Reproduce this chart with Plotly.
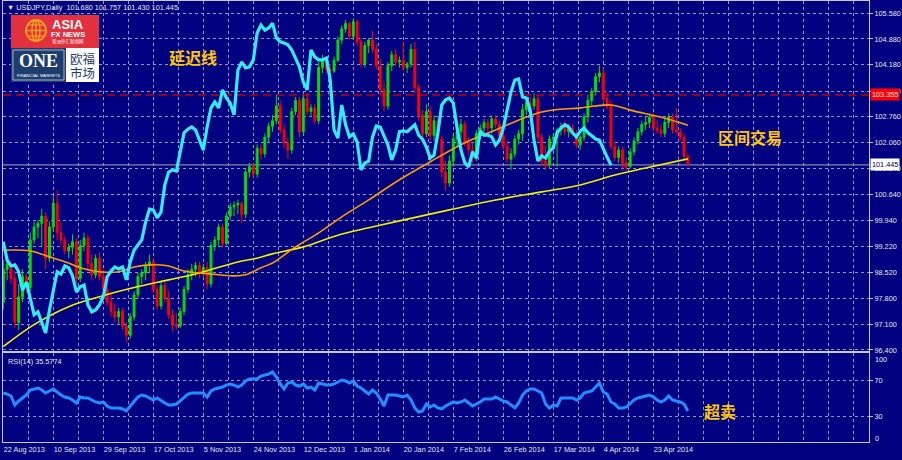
import plotly.graph_objects as go
from plotly.subplots import make_subplots

# date labels on the time axis, each sitting on a bar index
date_labels = ["22 Aug 2013", "10 Sep 2013", "29 Sep 2013", "17 Oct 2013", "5 Nov 2013",
               "24 Nov 2013", "12 Dec 2013", "1 Jan 2014", "20 Jan 2014", "7 Feb 2014",
               "26 Feb 2014", "17 Mar 2014", "4 Apr 2014", "23 Apr 2014"]
date_bars = [0, 13, 26, 39, 52, 65, 78, 91, 104, 117, 130, 143, 156, 169]

# price axis labels (as printed by the terminal)
price_ticks = [105.580, 104.880, 104.180, 103.460, 102.760, 102.060, 101.340,
               100.640, 99.940, 99.220, 98.520, 97.800, 97.100, 96.400]

# USDJPY daily candles
open_ = [97.70, 98.60, 98.75, 98.35, 97.15, 97.85, 98.40, 98.10, 99.40, 99.75,
         99.85, 100.05, 98.90, 99.75, 100.40, 99.60, 99.40, 99.10, 99.20, 99.35,
         98.35, 99.25, 99.45, 98.75, 98.45, 98.90, 98.40, 98.05, 97.70, 97.45,
         97.30, 97.45, 97.05, 96.80, 97.30, 97.90, 98.40, 98.50, 98.70, 98.80,
         98.05, 97.60, 98.15, 97.80, 97.35, 97.10, 97.05, 97.45, 98.05, 98.45,
         98.60, 98.70, 98.50, 98.65, 98.20, 99.25, 99.40, 99.75, 99.30, 100.05,
         100.30, 100.35, 100.40, 100.10, 101.25, 101.40, 101.20, 101.90, 101.75, 102.20,
         102.50, 102.65, 103.05, 102.40, 102.05, 101.85, 102.90, 103.20, 102.35, 103.25,
         102.90, 103.00, 102.65, 104.10, 104.30, 104.05, 104.00, 104.30, 104.85, 105.15,
         105.30, 104.95, 105.35, 104.80, 104.20, 104.70, 104.85, 104.60, 104.15, 103.50,
         103.05, 104.15, 104.45, 104.25, 104.30, 104.10, 104.20, 104.60, 103.55, 102.80,
         102.30, 102.90, 102.25, 102.65, 102.15, 101.25, 100.95, 101.55, 102.15, 102.35,
         102.55, 102.05, 101.85, 101.65, 102.30, 102.45, 102.60, 102.45, 102.70, 102.55,
         102.25, 101.95, 101.60, 101.75, 102.15, 102.30, 102.95, 103.15, 103.05, 103.25,
         102.20, 101.55, 101.45, 102.15, 102.20, 102.40, 102.50, 102.35, 102.45, 102.30,
         102.00, 102.20, 102.75, 103.20, 103.45, 103.85, 103.95, 103.25, 103.05, 101.95,
         101.65, 101.85, 101.50, 101.40, 101.80, 102.10, 102.35, 102.55, 102.60, 102.75,
         102.45, 102.40, 102.30, 102.60, 102.75, 102.40, 102.35, 102.20, 101.680]
high = [98.85, 98.90, 98.85, 98.55, 98.20, 98.60, 98.50, 99.60, 99.90, 99.95,
        100.25, 100.15, 99.90, 100.60, 100.75, 99.90, 99.50, 99.30, 99.55, 99.45,
        99.40, 99.60, 99.55, 99.00, 99.00, 99.05, 98.60, 98.20, 97.95, 97.65,
        97.55, 97.55, 97.15, 97.40, 98.00, 98.50, 98.60, 98.80, 99.00, 98.90,
        98.15, 98.25, 98.30, 98.00, 97.50, 97.40, 97.55, 98.15, 98.60, 98.75,
        98.80, 98.80, 98.75, 98.80, 99.35, 99.50, 99.85, 99.85, 100.15, 100.40,
        100.45, 100.50, 100.45, 101.35, 101.50, 101.50, 102.00, 102.00, 102.30, 102.60,
        102.80, 103.35, 103.20, 102.55, 102.20, 103.00, 103.30, 103.30, 103.35, 103.40,
        103.10, 103.10, 104.25, 104.45, 104.40, 104.20, 104.40, 104.95, 105.25, 105.40,
        105.35, 105.44, 105.40, 104.90, 104.80, 104.90, 105.10, 104.75, 104.35, 103.70,
        104.25, 104.55, 104.60, 104.40, 104.80, 104.25, 104.75, 104.80, 103.65, 102.95,
        103.10, 103.05, 102.80, 102.75, 102.25, 101.55, 101.70, 102.30, 102.50, 102.70,
        102.65, 102.20, 102.05, 102.40, 102.55, 102.70, 102.70, 102.80, 102.80, 102.65,
        102.35, 102.10, 101.90, 102.25, 102.40, 103.10, 103.25, 103.30, 103.40, 103.35,
        102.30, 101.95, 102.25, 102.30, 102.45, 102.60, 102.65, 102.55, 102.55, 102.40,
        102.25, 102.85, 103.35, 103.55, 103.95, 104.15, 104.10, 103.40, 103.20, 102.10,
        101.95, 101.95, 101.65, 101.90, 102.20, 102.45, 102.65, 102.75, 102.85, 102.85,
        102.65, 102.55, 102.70, 102.85, 102.85, 103.00, 102.45, 102.30, 101.757]
low = [97.50, 98.30, 98.20, 97.00, 96.95, 97.70, 97.95, 98.00, 99.30, 99.45,
       99.20, 98.60, 98.80, 99.65, 99.40, 99.25, 99.00, 98.90, 99.00, 98.20,
       98.25, 99.10, 98.60, 98.30, 98.35, 98.30, 97.90, 97.60, 97.30, 97.15,
       97.10, 96.95, 96.60, 96.70, 97.20, 97.80, 98.20, 98.30, 98.50, 97.95,
       97.50, 97.50, 97.70, 97.25, 96.90, 96.95, 97.00, 97.35, 97.95, 98.30,
       98.40, 98.35, 98.40, 98.05, 98.10, 99.10, 99.20, 99.20, 99.25, 99.95,
       100.05, 100.10, 99.85, 100.00, 101.10, 101.10, 101.10, 101.60, 101.65, 102.05,
       102.35, 102.55, 102.30, 101.90, 101.60, 101.75, 102.80, 102.20, 102.25, 102.80,
       102.75, 102.55, 102.55, 103.95, 103.95, 103.85, 103.95, 104.25, 104.75, 105.05,
       104.85, 104.85, 104.70, 104.10, 104.10, 104.50, 104.50, 104.05, 103.35, 102.90,
       102.95, 104.00, 104.15, 104.10, 104.00, 103.95, 104.10, 103.40, 102.65, 102.15,
       102.20, 102.10, 102.10, 102.05, 101.10, 100.75, 100.85, 101.40, 101.95, 102.10,
       101.95, 101.70, 101.50, 101.55, 102.15, 102.30, 102.35, 102.30, 102.45, 102.10,
       101.85, 101.50, 101.30, 101.65, 102.00, 102.10, 102.80, 102.95, 102.95, 102.05,
       101.40, 101.30, 101.35, 101.95, 101.40, 102.25, 102.25, 102.20, 102.25, 101.90,
       101.85, 102.10, 102.60, 103.05, 103.35, 103.70, 103.15, 102.95, 101.85, 101.55,
       101.50, 101.30, 101.30, 101.35, 101.70, 102.00, 102.25, 102.40, 102.45, 102.35,
       102.30, 102.20, 102.20, 102.45, 102.30, 102.30, 102.10, 101.60, 101.430]
close = [98.60, 98.75, 98.35, 97.15, 97.85, 98.40, 98.10, 99.40, 99.75, 99.85,
         100.05, 98.90, 99.75, 100.40, 99.60, 99.40, 99.10, 99.20, 99.35, 98.35,
         99.25, 99.45, 98.75, 98.45, 98.90, 98.40, 98.05, 97.70, 97.45, 97.30,
         97.45, 97.05, 96.80, 97.30, 97.90, 98.40, 98.50, 98.70, 98.80, 98.05,
         97.60, 98.15, 97.80, 97.35, 97.10, 97.05, 97.45, 98.05, 98.45, 98.60,
         98.70, 98.50, 98.65, 98.20, 99.25, 99.40, 99.75, 99.30, 100.05, 100.30,
         100.35, 100.40, 100.10, 101.25, 101.40, 101.20, 101.90, 101.75, 102.20, 102.50,
         102.65, 103.05, 102.40, 102.05, 101.85, 102.90, 103.20, 102.35, 103.25, 102.90,
         103.00, 102.65, 104.10, 104.30, 104.05, 104.00, 104.30, 104.85, 105.15, 105.30,
         104.95, 105.35, 104.80, 104.20, 104.70, 104.85, 104.60, 104.15, 103.50, 103.05,
         104.15, 104.45, 104.25, 104.30, 104.10, 104.20, 104.60, 103.55, 102.80, 102.30,
         102.90, 102.25, 102.65, 102.15, 101.25, 100.95, 101.55, 102.15, 102.35, 102.55,
         102.05, 101.85, 101.65, 102.30, 102.45, 102.60, 102.45, 102.70, 102.55, 102.25,
         101.95, 101.60, 101.75, 102.15, 102.30, 102.95, 103.15, 103.05, 103.25, 102.20,
         101.55, 101.45, 102.15, 102.20, 102.40, 102.50, 102.35, 102.45, 102.30, 102.00,
         102.20, 102.75, 103.20, 103.45, 103.85, 103.95, 103.25, 103.05, 101.95, 101.65,
         101.85, 101.50, 101.40, 101.80, 102.10, 102.35, 102.55, 102.60, 102.75, 102.45,
         102.40, 102.30, 102.60, 102.75, 102.40, 102.35, 102.20, 101.68, 101.445]

# lagging line (cyan), one value per bar from the first bar
lag_line = [99.35, 98.85, 98.69, 98.72, 98.53, 98.03, 98.25, 97.77, 97.36, 97.44,
            97.16, 96.86, 97.49, 98.03, 98.53, 98.47, 98.69, 98.64, 98.42, 97.98,
            98.12, 98.17, 97.63, 97.44, 97.49, 97.63, 97.85, 98.39, 98.55, 98.66,
            98.61, 98.66, 98.31, 98.80, 99.12, 99.26, 99.40, 99.89, 100.24, 100.22,
            100.00, 100.16, 100.90, 101.25, 101.31, 101.28, 101.85, 102.32, 102.42, 102.48,
            102.40, 102.10, 101.85, 102.48, 103.00, 103.16, 103.00, 103.49, 103.27, 103.13,
            102.81, 104.03, 104.25, 104.09, 104.12, 104.31, 105.04, 105.26, 105.12, 105.18,
            105.31, 104.91, 104.80, 104.77, 104.72, 104.58, 104.36, 104.12, 103.71, 103.49,
            104.58, 104.39, 104.31, 104.31, 104.36, 103.76, 102.40, 102.18, 103.08, 102.54,
            102.21, 102.29, 102.07, 101.31, 101.50, 101.55, 102.21, 102.51, 102.48, 102.26,
            101.99, 101.58, 101.85, 102.35, 102.37, 102.35, 102.45, 102.54, 102.26, 102.15,
            101.93, 101.63, 101.71, 102.32, 103.08, 103.22, 103.27, 103.13, 102.45, 101.85,
            101.50, 101.39, 101.80, 101.63, 102.37, 102.26, 102.26, 102.21, 101.99, 102.12,
            102.45, 102.91, 103.43, 103.76, 103.79, 103.30, 103.27, 102.94, 102.12, 101.55,
            101.69, 101.63, 101.82, 101.91, 102.32, 102.45, 102.54, 102.48, 102.32, 102.21,
            102.37, 102.45, 102.32, 102.24, 102.15, 102.12, 101.91, 101.66, 101.44]

# moving averages, sampled along the curves
fast_ma_bars = [0, 7, 12, 17, 20, 25, 30, 34, 38, 43, 47, 51, 56, 60, 63, 67, 70, 72,
                76, 82, 88, 95, 103, 111, 120, 128, 140, 150, 158, 163, 172, 178]
fast_ma = [99.12, 99.10, 98.94, 98.77, 98.64, 98.53, 98.53, 98.66, 98.72, 98.69, 98.55,
           98.50, 98.45, 98.42, 98.45, 98.64, 98.77, 98.91, 99.21, 99.59, 100.03, 100.49,
           101.04, 101.53, 102.05, 102.40, 102.89, 103.00, 103.08, 102.94, 102.72, 102.53]
slow_ma_bars = [0, 8, 17, 25, 34, 43, 51, 61, 65, 70, 78, 87, 95, 103, 116, 128, 140,
                150, 159, 167, 178]
slow_ma = [96.49, 97.09, 97.58, 97.85, 98.10, 98.31, 98.50, 98.80, 98.88, 99.02, 99.21,
           99.53, 99.73, 99.92, 100.22, 100.49, 100.71, 100.90, 101.17, 101.36, 101.61]

# RSI(14)
rsi = [55.6, 54.4, 52.2, 42.2, 46.7, 50.0, 53.3, 58.9, 60.0, 61.1,
       58.9, 55.6, 57.8, 60.0, 56.7, 53.3, 51.1, 50.0, 47.8, 44.4,
       51.1, 50.0, 50.0, 47.8, 45.6, 44.4, 45.6, 41.1, 38.9, 38.9,
       38.9, 37.8, 35.6, 41.1, 46.7, 51.1, 53.3, 52.2, 50.0, 47.8,
       50.0, 46.7, 44.4, 42.2, 42.2, 43.3, 46.7, 51.1, 54.4, 55.6,
       55.6, 55.6, 55.6, 51.1, 57.8, 60.0, 61.1, 62.2, 64.4, 65.6,
       64.4, 62.2, 64.4, 68.9, 71.1, 71.1, 71.1, 74.4, 75.6, 76.7,
       78.9, 73.3, 65.6, 60.0, 66.7, 67.8, 64.4, 63.3, 65.6, 61.1,
       62.2, 58.9, 66.7, 65.6, 64.4, 64.4, 65.6, 67.8, 70.0, 68.9,
       66.7, 68.9, 63.3, 61.1, 57.8, 54.4, 58.9, 55.6, 48.9, 41.1,
       53.3, 53.3, 53.3, 52.2, 51.1, 53.3, 47.8, 38.9, 34.4, 35.6,
       43.3, 40.0, 42.2, 38.9, 37.8, 41.1, 43.3, 45.6, 44.4, 45.6,
       47.8, 44.4, 41.1, 43.3, 45.6, 48.9, 48.9, 48.9, 51.1, 48.9,
       46.7, 45.6, 42.2, 38.9, 44.4, 53.3, 57.8, 60.0, 60.0, 57.8,
       55.6, 43.3, 38.9, 42.2, 41.1, 50.0, 50.0, 50.0, 50.0, 47.8,
       50.0, 55.6, 56.7, 57.8, 62.2, 66.7, 56.7, 54.4, 45.6, 43.3,
       38.9, 38.9, 40.0, 44.4, 47.8, 50.0, 51.1, 52.2, 53.3, 51.1,
       47.8, 45.6, 47.8, 52.2, 47.8, 46.7, 45.6, 43.3, 35.58]

stop_level = 103.355
bid = 101.445

# ---- geometry (pixels of the 902x460 window) ----
W, H = 902, 460
ML, MR, MT, MB = 3, 33, 1, 18
BAR_PX = 3.846        # horizontal spacing of the bars
BAR0_PX = 3.3         # pixel of the first bar


def px(x):
    return (x - ML) / (W - ML - MR)


def py(y):
    return (H - MB - y) / (H - MT - MB)


BG = "#000080"
GRID = "#8f94c4"
FRAME = "#c8c8c8"
TXT = "#e6e6e6"
FONT = "Liberation Sans"
CJK = "Noto Sans CJK SC"
GOLD = "#ffc800"

bars = list(range(len(close)))
x_range = [(ML - BAR0_PX) / BAR_PX, (W - MR - BAR0_PX) / BAR_PX]
grid_bars = [k * 6.5 for k in range(35)]
grid_text = []
for g in grid_bars:
    grid_text.append(date_labels[date_bars.index(int(g))] if g in date_bars else "")

fig = make_subplots(rows=2, cols=1, shared_xaxes=True, vertical_spacing=0.0)

fig.add_trace(go.Candlestick(
    x=bars, open=open_, high=high, low=low, close=close,
    increasing=dict(line=dict(color="#00e000", width=1), fillcolor="#00e000"),
    decreasing=dict(line=dict(color="#ff0000", width=1), fillcolor="#ff0000"),
    whiskerwidth=0, hoverinfo="skip"), row=1, col=1)
fig.add_trace(go.Scatter(x=slow_ma_bars, y=slow_ma, mode="lines",
                         line=dict(color="#f0f000", width=1.6, shape="spline")), row=1, col=1)
fig.add_trace(go.Scatter(x=fast_ma_bars, y=fast_ma, mode="lines",
                         line=dict(color="#ff9c00", width=1.6, shape="spline")), row=1, col=1)
fig.add_trace(go.Scatter(x=bars[:len(lag_line)], y=lag_line, mode="lines",
                         line=dict(color="#30ecff", width=3.2)), row=1, col=1)
fig.add_trace(go.Scatter(x=bars, y=rsi, mode="lines",
                         line=dict(color="#1e90ff", width=3)), row=2, col=1)

axis_common = dict(showline=True, mirror=True, linecolor=FRAME, linewidth=1,
                   zeroline=False, gridcolor=GRID, griddash="3px,3px", gridwidth=1)

fig.update_xaxes(range=x_range, tickvals=grid_bars, showgrid=True,
                 rangeslider_visible=False, **axis_common)
fig.update_xaxes(showticklabels=False, row=1, col=1)
fig.update_xaxes(ticktext=grid_text, showticklabels=True, ticks="",
                 ticklabelposition="outside right",
                 tickfont=dict(family=FONT, size=7.3, color=TXT), row=2, col=1)

fig.update_yaxes(domain=[py(351), 1.0], range=[96.371, 105.915], side="right",
                 tickvals=price_ticks, ticktext=["%.3f" % v for v in price_ticks],
                 ticks="outside", ticklen=3, tickcolor=FRAME,
                 tickfont=dict(family=FONT, size=7.3, color=TXT), **axis_common,
                 row=1, col=1)
fig.update_yaxes(domain=[0.0, py(353)], range=[1.11, 100.0], side="right",
                 tickvals=[30, 70], ticktext=["30", "70"],
                 ticks="outside", ticklen=3, tickcolor=FRAME,
                 tickfont=dict(family=FONT, size=7.3, color=TXT), **axis_common,
                 row=2, col=1)

shapes = [
    dict(type="line", xref="paper", yref="y", x0=0, x1=1, y0=stop_level, y1=stop_level,
         line=dict(color="#c80000", width=1.5, dash="8px,5px"), layer="below"),
    dict(type="line", xref="paper", yref="y", x0=0, x1=1, y0=bid, y1=bid,
         line=dict(color="#a8a8a8", width=1), layer="below"),
]


# logo box in the upper left corner
def rect(x0, y0, x1, y1, fill, line=None):
    return dict(type="rect", xref="paper", yref="paper",
                x0=px(x0), x1=px(x1), y0=py(y1), y1=py(y0),
                fillcolor=fill, line=dict(width=0) if line is None else line)


shapes += [
    rect(11, 15, 99, 48, "#e2303e"),
    rect(11, 48, 66, 82, "#1d3d6e"),
    rect(66, 48, 99, 82, "#ffffff"),
    rect(13, 50, 64, 80, "rgba(0,0,0,0)", dict(color="#c8d0e0", width=0.8)),
    dict(type="circle", xref="paper", yref="paper", x0=px(26), x1=px(46), y0=py(41), y1=py(20),
         line=dict(color="#f6a21e", width=1.8)),
    dict(type="circle", xref="paper", yref="paper", x0=px(32), x1=px(40), y0=py(41), y1=py(20),
         line=dict(color="#f6a21e", width=1.4)),
    dict(type="line", xref="paper", yref="paper", x0=px(36), x1=px(36), y0=py(41), y1=py(20),
         line=dict(color="#f6a21e", width=1.4)),
    dict(type="line", xref="paper", yref="paper", x0=px(26), x1=px(46), y0=py(30.5), y1=py(30.5),
         line=dict(color="#f6a21e", width=1.4)),
    dict(type="line", xref="paper", yref="paper", x0=px(28), x1=px(44), y0=py(25), y1=py(25),
         line=dict(color="#f6a21e", width=1.2)),
    dict(type="line", xref="paper", yref="paper", x0=px(28), x1=px(44), y0=py(36), y1=py(36),
         line=dict(color="#f6a21e", width=1.2)),
]


def label(x, y, text, size, color, family=FONT, xanchor="center", **kw):
    return dict(xref="paper", yref="paper", x=px(x), y=py(y), text=text, showarrow=False,
                xanchor=xanchor, yanchor="middle",
                font=dict(family=family, size=size, color=color), **kw)


annotations = [
    label(5, 7, "▼ USDJPY,Daily  101.680 101.757 101.430 101.445", 7.3, TXT, xanchor="left"),
    label(6, 361, "RSI(14) 35.5774", 7.3, TXT, xanchor="left"),
    label(873, 359, "100", 7.3, TXT, xanchor="left"),
    label(873, 438, "0", 7.3, TXT, xanchor="left"),
    dict(xref="paper", yref="y", x=px(870), y=stop_level, text="103.355", showarrow=False,
         xanchor="left", yanchor="middle", bgcolor="#ff0000", borderpad=1,
         font=dict(family=FONT, size=7.3, color="#ffe8e8")),
    dict(xref="paper", yref="y", x=px(870), y=bid, text="101.445", showarrow=False,
         xanchor="left", yanchor="middle", bgcolor="#ffffff", borderpad=1,
         font=dict(family=FONT, size=7.3, color="#000040")),
    label(193, 57, "<b>延迟线</b>", 16, GOLD, family=CJK),
    label(750, 137, "<b>区间交易</b>", 16, GOLD, family=CJK),
    label(720, 411, "<b>超卖</b>", 16, GOLD, family=CJK),
    # logo texts
    label(68, 24, "<b>ASIA</b>", 13, "#ffffff"),
    label(68, 34.5, "<b>FX NEWS</b>", 7.5, "#ffffff"),
    label(68, 41.5, "亚洲外汇新闻网", 4.5, "#ffffff", family=CJK),
    label(38, 61, "<b>ONE</b>", 18, "#ffffff", family="Liberation Serif"),
    label(38, 76, "FINANCIAL MARKETS", 4.2, "#ffffff"),
    label(82.5, 59, "欧福", 12.5, "#1d3d6e", family=CJK),
    label(82.5, 73, "市场", 12.5, "#1d3d6e", family=CJK),
]

fig.update_layout(
    width=W, height=H,
    margin=dict(l=ML, r=MR, t=MT, b=MB),
    paper_bgcolor=BG, plot_bgcolor=BG,
    showlegend=False, hovermode=False, dragmode=False,
    shapes=shapes, annotations=annotations,
)

# the page's default body margin would push the 902x460 figure off the window
fig.write_html("out.html", config={"displayModeBar": False},
               post_script="document.body.style.margin='0';")
